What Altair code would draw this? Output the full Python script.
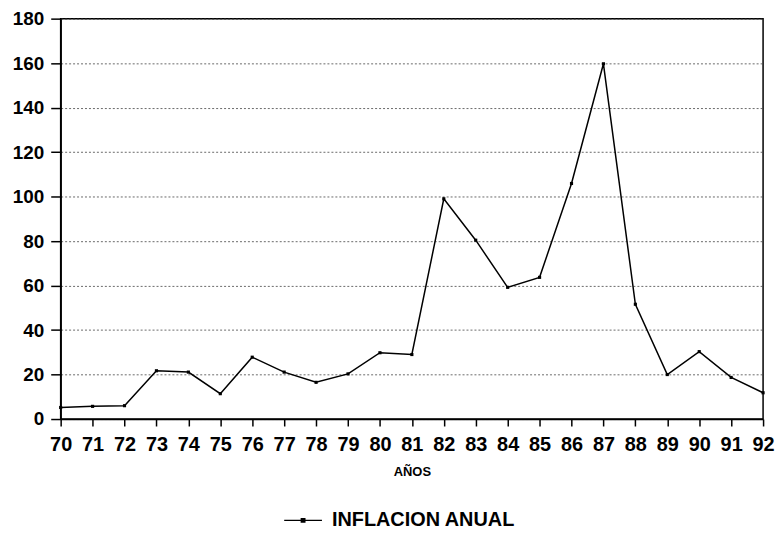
import altair as alt
import pandas as pd

years = list(range(70, 93))
inflation = [5.2, 5.7, 6.0, 21.7, 21.1, 11.4, 27.8, 21.1, 16.5, 20.3, 29.8, 29.0,
             99.0, 80.4, 59.2, 63.7, 105.9, 159.7, 51.6, 20.0, 30.3, 18.7, 11.8]
series_name = "INFLACION ANUAL"
y_ticks = list(range(0, 181, 20))

df = pd.DataFrame({"anio": years, "valor": inflation, "serie": [series_name] * len(years)})

FONT = "Liberation Sans"

x_axis = alt.Axis(values=years, title="AÑOS", format="d", grid=False,
                  ticks=True, tickSize=7, tickColor="#000000", tickWidth=1.5,
                  domain=True, domainColor="#000000", domainWidth=1.5,
                  labelPadding=9, labelFontSize=20,
                  labelFont=FONT, labelFontWeight="bold", labelColor="black",
                  titleFont=FONT, titleFontSize=13, titleFontWeight="bold",
                  titleColor="black", titleY=47, titleBaseline="top",
                  labelFlush=False)
y_axis = alt.Axis(values=y_ticks, title=None, grid=True, gridDash=[2, 2],
                  gridColor="#444", gridWidth=0.8,
                  ticks=True, tickSize=10, tickColor="#000000", tickWidth=1.5,
                  domain=True, domainColor="#000000", domainWidth=1.5,
                  labelPadding=7,
                  labelFontSize=19, labelFont=FONT, labelFontWeight="bold",
                  labelColor="black")

x_enc = alt.X("anio:Q", scale=alt.Scale(domain=[70, 92], nice=False, zero=False), axis=x_axis)
y_enc = alt.Y("valor:Q", scale=alt.Scale(domain=[0, 180], nice=False), axis=y_axis)

color_enc = alt.Color("serie:N", scale=alt.Scale(range=["black"]),
                      legend=alt.Legend(title=None, orient="none", legendX=224, legendY=485,
                                        symbolType="M-1,0L1,0M-0.09,-0.09L0.09,-0.09L0.09,0.09L-0.09,0.09Z",
                                        symbolSize=1444, symbolStrokeWidth=1.5,
                                        symbolFillColor="black", symbolStrokeColor="black",
                                        labelFont=FONT, labelFontSize=20, labelFontWeight="bold",
                                        labelColor="black", labelOffset=9, labelLimit=400,
                                        padding=0))

line = alt.Chart(df).mark_line(strokeWidth=1.5).encode(x=x_enc, y=y_enc, color=color_enc)
pts = alt.Chart(df).mark_point(shape="square", filled=True, size=10, opacity=1).encode(
    x=x_enc, y=y_enc, color=color_enc)

chart = (line + pts).properties(
    width=707, height=403,
    background="white",
    autosize=alt.AutoSizeParams(type="none"),
    padding={"left": 53, "top": 9, "right": 12, "bottom": 113},
).configure_view(stroke="black", strokeWidth=1.5)

chart.save("out.html", embed_options={"renderer": "svg", "actions": False})
